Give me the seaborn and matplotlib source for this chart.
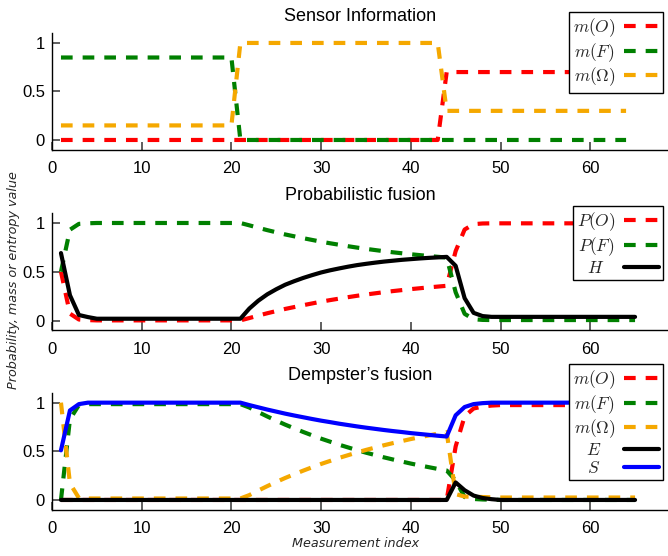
import numpy as np
import pandas as pd
import matplotlib
matplotlib.use("Agg")
import matplotlib.pyplot as plt
from matplotlib.transforms import Affine2D
import seaborn as sns

# ---------------- data ----------------
sensor_x = list(range(1, 65))
sensor_mO = [0.0] * 43 + [0.7] * 21
sensor_mF = [0.85] * 20 + [0.0] * 44
sensor_mOmega = [0.15] * 20 + [1.0] * 23 + [0.3] * 21

prob_x = list(range(1, 66))
prob_PO = ([0.5, 0.072, 0.012, 0.006] + [0.003] * 17 +
           [0.027, 0.052, 0.076, 0.098, 0.12, 0.139, 0.158, 0.176, 0.194, 0.21,
            0.225, 0.24, 0.254, 0.267, 0.279, 0.291, 0.302, 0.312, 0.322, 0.331,
            0.34, 0.348, 0.356] +
           [0.71, 0.93, 0.985, 0.992] + [0.9935] * 17)
prob_PF = ([0.5, 0.928, 0.988, 0.994] + [0.997] * 17 +
           [0.973, 0.948, 0.924, 0.902, 0.88, 0.861, 0.842, 0.824, 0.806, 0.79,
            0.775, 0.76, 0.746, 0.733, 0.721, 0.709, 0.698, 0.688, 0.678, 0.669,
            0.66, 0.652, 0.644] +
           [0.29, 0.07, 0.015, 0.008] + [0.0065] * 17)
prob_H = ([0.69, 0.26, 0.058, 0.037] + [0.02] * 17 +
          [0.124, 0.204, 0.269, 0.321, 0.367, 0.403, 0.436, 0.465, 0.492, 0.514,
           0.533, 0.551, 0.567, 0.58, 0.592, 0.603, 0.612, 0.621, 0.628, 0.635,
           0.641, 0.646, 0.651] +
          [0.56, 0.23, 0.08, 0.047] + [0.039] * 17)

ds_x = list(range(1, 66))
ds_mO = [0.0] * 44 + [0.55, 0.86, 0.94, 0.96, 0.97] + [0.975] * 16
ds_mF = ([0.0, 0.83, 0.975] + [0.985] * 18 +
         [0.95, 0.903, 0.858, 0.815, 0.774, 0.736, 0.699, 0.664, 0.63, 0.599,
          0.568, 0.54, 0.512, 0.486, 0.462, 0.438, 0.416, 0.395, 0.374, 0.355,
          0.337, 0.319, 0.303] +
         [0.2, 0.03, 0.01, 0.005, 0.003] + [0.0] * 16)
ds_mOmega = ([1.0, 0.17, 0.02] + [0.015] * 18 +
             [0.05, 0.097, 0.142, 0.185, 0.226, 0.264, 0.301, 0.336, 0.37, 0.401,
              0.432, 0.46, 0.488, 0.514, 0.538, 0.562, 0.584, 0.605, 0.626, 0.645,
              0.663, 0.681, 0.697] +
             [0.06, 0.035, 0.033, 0.03, 0.027] + [0.025] * 16)
ds_E = [0.0] * 44 + [0.18, 0.1, 0.045, 0.02, 0.008] + [0.0] * 16
ds_S = ([0.51, 0.92, 0.985] + [1.0] * 18 +
        [0.975, 0.952, 0.929, 0.908, 0.887, 0.868, 0.85, 0.832, 0.815, 0.8,
         0.784, 0.77, 0.756, 0.743, 0.731, 0.719, 0.708, 0.698, 0.687, 0.678,
         0.669, 0.66, 0.652] +
        [0.87, 0.955, 0.985, 0.995, 1.0] + [1.0] * 16)

titles = ["Sensor Information", "Probabilistic fusion", "Dempster\u2019s fusion"]
x_ticks = [0, 10, 20, 30, 40, 50, 60]
y_ticks = [0, 0.5, 1]
y_ticklabels = ["0", "0.5", "1"]

RED, GREEN, ORANGE, BLACK, BLUE = "#ff0000", "#008000", "#f5a800", "#000000", "#0000ff"

# ---------------- style ----------------
sns.set_theme(style="ticks")
plt.rcParams["font.family"] = ["Liberation Sans", "DejaVu Sans"]
plt.rcParams["mathtext.fontset"] = "cm"
plt.rcParams["lines.dashed_pattern"] = [2.8, 2.4]
plt.rcParams["xtick.bottom"] = True
plt.rcParams["ytick.left"] = True
plt.rcParams["xtick.direction"] = "in"
plt.rcParams["ytick.direction"] = "in"

fig = plt.figure(figsize=(6.68, 5.56), dpi=100)
W, H = 668.0, 556.0
left = 52 / W
width = 1.0 - left
ax_pos = [
    [left, 0.7308, width, 0.2094],
    [left, 0.4056, width, 0.2115],
    [left, 0.0833, width, 0.2100],
]
axes = [fig.add_axes(p) for p in ax_pos]

panels = [
    (sensor_x,
     [(sensor_mO, r"$m(O)$", RED, "--"),
      (sensor_mF, r"$m(F)$", GREEN, "--"),
      (sensor_mOmega, r"$m(\Omega)$", ORANGE, "--")]),
    (prob_x,
     [(prob_PO, r"$P(O)$", RED, "--"),
      (prob_PF, r"$P(F)$", GREEN, "--"),
      (prob_H, r"$H$", BLACK, "-")]),
    (ds_x,
     [(ds_mO, r"$m(O)$", RED, "--"),
      (ds_mF, r"$m(F)$", GREEN, "--"),
      (ds_mOmega, r"$m(\Omega)$", ORANGE, "--"),
      (ds_E, r"$E$", BLACK, "-"),
      (ds_S, r"$S$", BLUE, "-")]),
]

legend_anchor_y = [1 - 12 / H, 1 - 206 / H, 1 - 364 / H]
legends = []

for i, (ax, (xs, series)) in enumerate(zip(axes, panels)):
    handles, labels = [], []
    for ys, lab, col, ls in series:
        df = pd.DataFrame({"x": xs, "y": ys})
        sns.lineplot(data=df, x="x", y="y", ax=ax, color=col, linestyle=ls,
                     linewidth=3, legend=False)
        handles.append(ax.get_lines()[-1])
        labels.append(lab)
    ax.set_xlim(0, (W - 52) / 8.97)
    ax.set_ylim(-0.1, 1.1)
    ax.set_xticks(x_ticks)
    ax.set_yticks(y_ticks)
    ax.set_yticklabels(y_ticklabels)
    ax.set_xlabel("")
    ax.set_ylabel("")
    for s in ["top", "right"]:
        ax.spines[s].set_visible(False)
    for s in ["left", "bottom"]:
        ax.spines[s].set_color("black")
        ax.spines[s].set_linewidth(1.0)
    ax.tick_params(which="major", bottom=True, left=True, top=False, right=False,
                   direction="in", length=6, width=1.2,
                   color="#444444", labelsize=12, labelcolor="black")
    ax.tick_params(axis="x", pad=8)
    ax.tick_params(axis="y", pad=5)
    ax.set_title(titles[i], fontsize=13, pad=9, color="black")
    leg = ax.legend(handles, labels, loc="upper right",
                    bbox_to_anchor=(663 / W, legend_anchor_y[i]),
                    bbox_transform=fig.transFigure, borderaxespad=0,
                    markerfirst=False, fontsize=12.5, frameon=True,
                    fancybox=False, framealpha=1, edgecolor="black",
                    borderpad=0.25, handletextpad=0.5, handlelength=2.0,
                    labelspacing=0.11)
    leg.get_frame().set_linewidth(1.0)
    leg.set_zorder(10)
    legends.append(leg)

fig.text(0.0195, 0.4964, "Probability, mass or entropy value", rotation=90,
         ha="center", va="center", fontsize=9.2, fontstyle="italic",
         family="DejaVu Sans")
fig.text(0.533, 0.0216, "Measurement index", ha="center", va="center",
         fontsize=9.2, fontstyle="italic", family="DejaVu Sans")

# centre the short legend labels within their column
fig.canvas.draw()
renderer = fig.canvas.get_renderer()
for leg in legends:
    exts = [t.get_window_extent(renderer) for t in leg.get_texts()]
    maxw = max(e.width for e in exts)
    for t, e in zip(leg.get_texts(), exts):
        shift = (maxw - e.width) / 2.0
        if shift > 1:
            t.set_transform(t.get_transform() + Affine2D().translate(-shift, 0))

fig.savefig("out.png", dpi=100, facecolor="white")
